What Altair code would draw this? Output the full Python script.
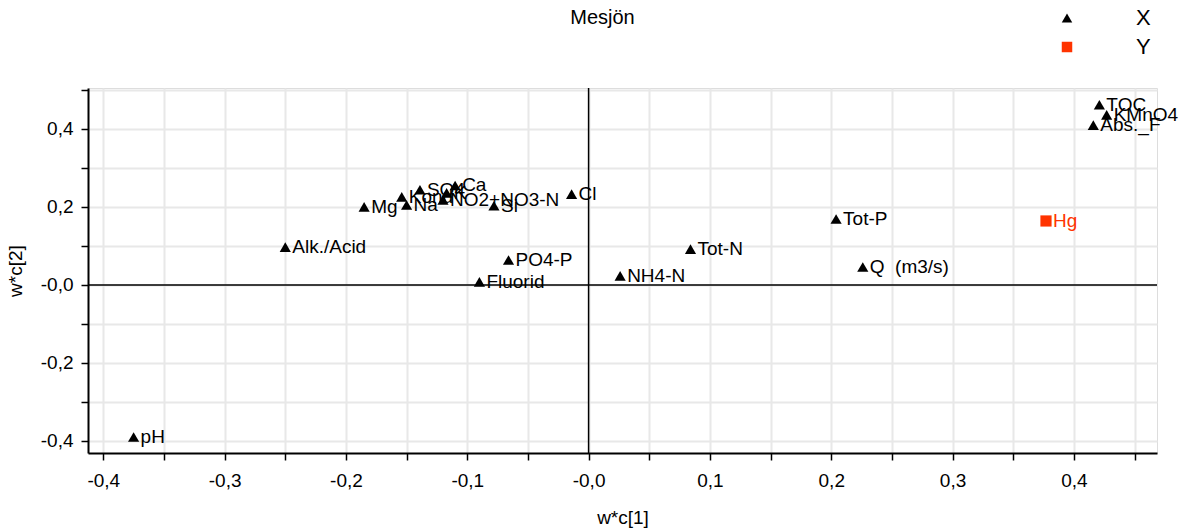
import altair as alt
import pandas as pd

# Loading plot of the PLS model, component 1 vs component 2
names = ["TOC", "KMnO4", "Abs._F", "Tot-P", "Q \u00a0(m3/s)", "Tot-N", "NH4-N", "Cl",
         "Si", "NO2+NO3-N", "PO4-P", "Fluorid", "Alk./Acid", "pH", "Mg", "Na",
         "Kond", "SO4", "K", "Ca", "Hg"]
wc1 = [0.421, 0.427, 0.416, 0.204, 0.226, 0.084, 0.026, -0.014,
       -0.078, -0.120, -0.066, -0.090, -0.250, -0.375, -0.185, -0.150,
       -0.154, -0.139, -0.117, -0.110, 0.377]
wc2 = [0.462, 0.436, 0.410, 0.169, 0.046, 0.092, 0.023, 0.233,
       0.203, 0.218, 0.064, 0.008, 0.097, -0.390, 0.200, 0.205,
       0.226, 0.244, 0.236, 0.255, 0.164]
block = ["X"] * 20 + ["Y"]

df = pd.DataFrame({"name": names, "w1": wc1, "w2": wc2, "block": block})

x_ticks = [round(-0.40 + 0.05 * i, 2) for i in range(18)]
y_ticks = [round(-0.40 + 0.10 * i, 1) for i in range(10)]

red = "#ff3300"
FONT = "Liberation Sans"

x_scale = alt.Scale(domain=[-0.4126, 0.4685], nice=False, zero=False)
y_scale = alt.Scale(domain=[-0.431, 0.505], nice=False, zero=False)

x_label = ("abs(round(datum.value*100)) % 10 != 0 ? '' : "
           "((datum.value < 0.001 ? '-' : '') + '0,' + abs(round(datum.value*10)))")
y_label = ("abs(round(datum.value*10)) % 2 != 0 ? '' : "
           "((datum.value < 0.001 ? '-' : '') + '0,' + abs(round(datum.value*10)))")

axis_common = dict(
    domainColor="black", domainWidth=2, tickColor="black", tickWidth=1.5,
    tickSize=7, gridColor="#e8e8e8", gridWidth=2, labelFont=FONT,
    labelFontSize=19, labelColor="black", titleFont=FONT,
    titleFontSize=19, titleFontWeight="normal", titleColor="black",
)

x_enc = alt.X("w1:Q", scale=x_scale,
              axis=alt.Axis(values=x_ticks, labelExpr=x_label, title="w*c[1]",
                            labelPadding=11, titleY=55, **axis_common))
y_enc = alt.Y("w2:Q", scale=y_scale,
              axis=alt.Axis(values=y_ticks, labelExpr=y_label, title="w*c[2]",
                            labelPadding=8, titleX=-63, **axis_common))

legend = alt.Legend(title=None, orient="none", legendX=968, legendY=-81, padding=0,
                    labelFontSize=22, labelFont=FONT, labelColor="black",
                    labelOffset=58, symbolSize=110, rowPadding=7,
                    symbolStrokeWidth=0)
group_domain = ["X", "Y"]

base = alt.Chart(df)

points = base.mark_point(filled=True, opacity=1, size=125).encode(
    x=x_enc,
    y=y_enc,
    shape=alt.Shape("block:N",
                    scale=alt.Scale(domain=group_domain, range=["triangle-up", "square"]),
                    legend=legend),
    color=alt.Color("block:N",
                    scale=alt.Scale(domain=group_domain, range=["black", red]),
                    legend=legend),
)

labels = base.mark_text(align="left", baseline="middle", dx=7,
                        font=FONT, fontSize=19).encode(
    x="w1:Q",
    y="w2:Q",
    text="name:N",
    color=alt.Color("block:N", scale=alt.Scale(domain=group_domain, range=["black", red]),
                    legend=None),
)

zero = pd.DataFrame({"v": [0.0]})
vline = alt.Chart(zero).mark_rule(color="black", strokeWidth=1.5).encode(x="v:Q")
hline = alt.Chart(zero).mark_rule(color="black", strokeWidth=1.5).encode(y="v:Q")

chart = alt.layer(vline, hline, points, labels).properties(
    width=1069,
    height=365,
    title=alt.TitleParams("Mesjön", font=FONT, fontSize=20, fontWeight="normal",
                          color="black", offset=-21, anchor="middle", dx=-20),
    autosize=alt.AutoSizeParams(type="none"),
    padding={"left": 88, "top": 88, "right": 30, "bottom": 79},
).configure_view(stroke="black", strokeWidth=2).configure(background="white")

chart.save("out.html", embed_options={"renderer": "svg", "actions": False})
